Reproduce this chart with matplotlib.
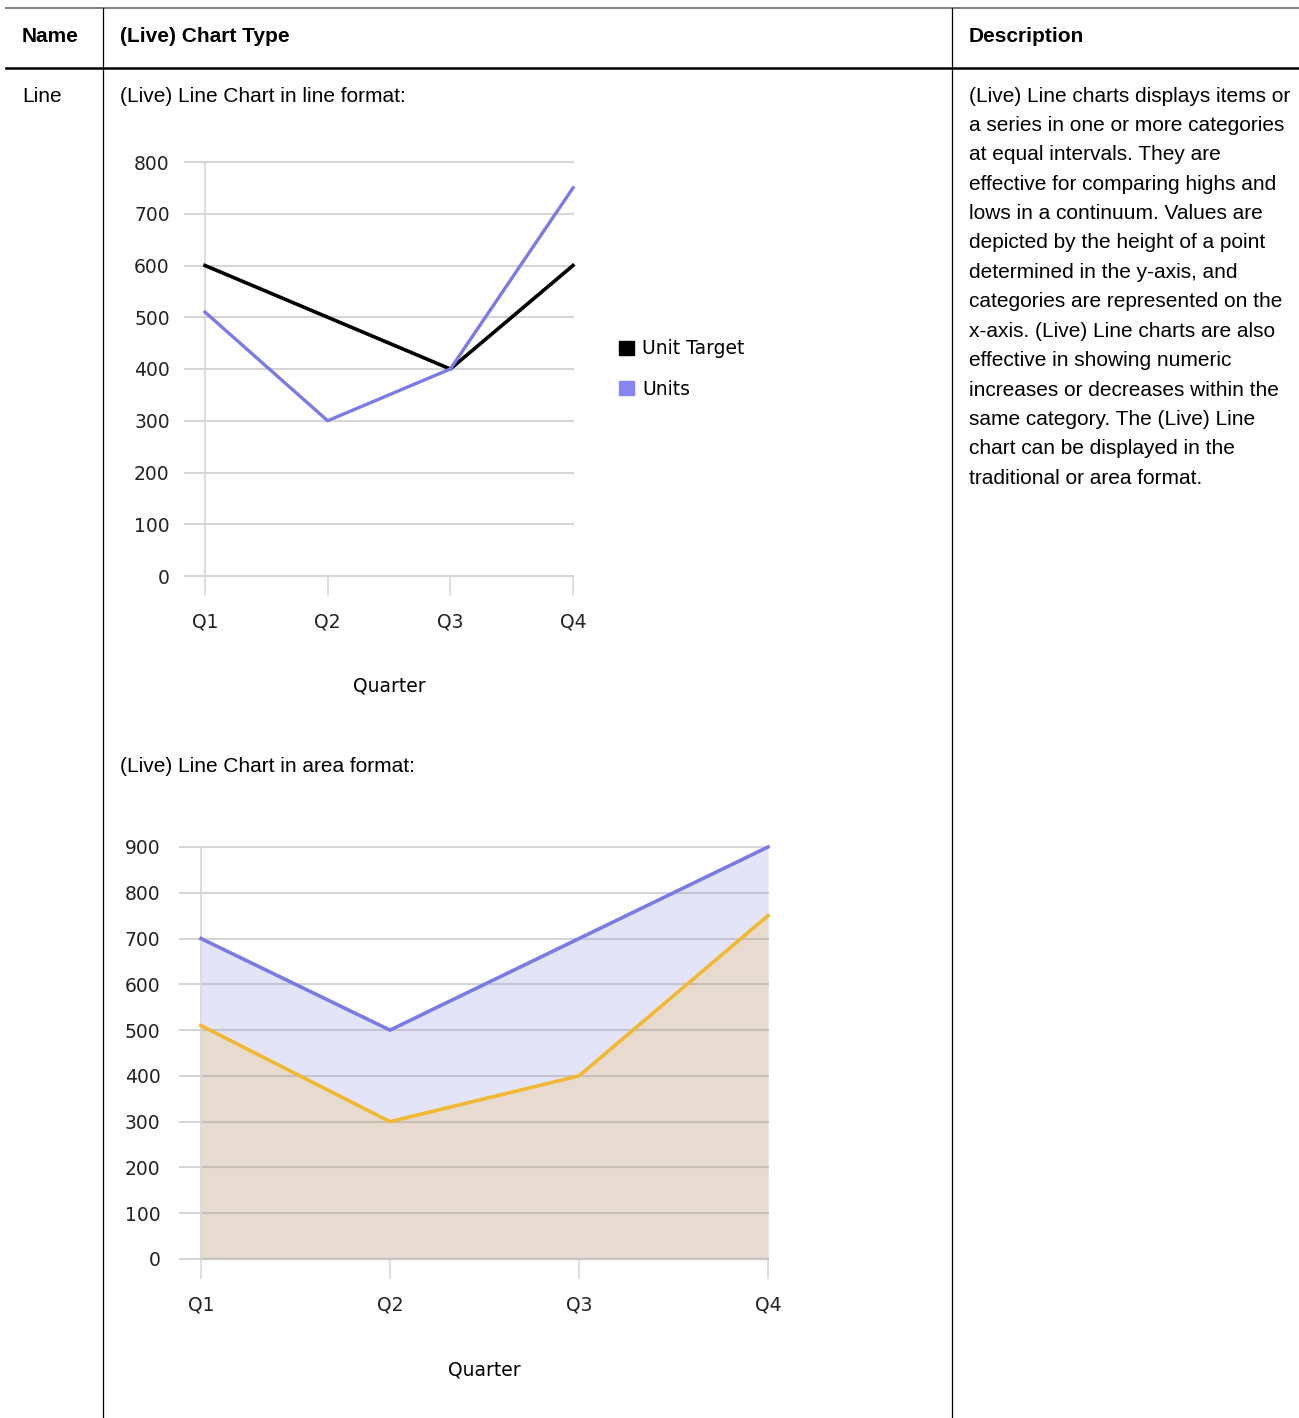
import matplotlib
matplotlib.use("Agg")
import matplotlib.pyplot as plt
from matplotlib.lines import Line2D
from matplotlib.patches import Patch

W, H = 1299, 1418
DOC_FONT = ['Liberation Sans Narrow', 'Liberation Sans', 'DejaVu Sans']
CHART_FONT = ['DejaVu Sans']

# ---------- data ----------
quarters = ["Q1", "Q2", "Q3", "Q4"]
unit_target = [600, 500, 400, 600]
units = [510, 300, 400, 750]
line_yticks = [0, 100, 200, 300, 400, 500, 600, 700, 800]

area_upper = [700, 500, 700, 900]
area_lower = [510, 300, 400, 750]
area_yticks = [0, 100, 200, 300, 400, 500, 600, 700, 800, 900]

headers = ["Name", "(Live) Chart Type", "Description"]
row_name = "Line"
caption_line = "(Live) Line Chart in line format:"
caption_area = "(Live) Line Chart in area format:"
desc_lines = [
    "(Live) Line charts displays items or",
    "a series in one or more categories",
    "at equal intervals. They are",
    "effective for comparing highs and",
    "lows in a continuum. Values are",
    "depicted by the height of a point",
    "determined in the y-axis, and",
    "categories are represented on the",
    "x-axis. (Live) Line charts are also",
    "effective in showing numeric",
    "increases or decreases within the",
    "same category. The (Live) Line",
    "chart can be displayed in the",
    "traditional or area format.",
]

BLUE = "#7b7be8"
BLUE_LEG = "#8686f2"
LAVENDER = "#e3e4f8"
TAN = "#e7dbcf"
YELLOW = "#f2b831"
GRID = "#d6d6d6"
FS = 13.5

fig = plt.figure(figsize=(W / 100, H / 100), dpi=100)

def fx(px): return px / W
def fy(py): return 1 - py / H

def hline(y, x0, x1, color, lw):
    fig.add_artist(Line2D([fx(x0), fx(x1)], [fy(y), fy(y)], color=color, lw=lw,
                          transform=fig.transFigure))

def vline(x, y0, y1, color, lw):
    fig.add_artist(Line2D([fx(x), fx(x)], [fy(y0), fy(y1)], color=color, lw=lw,
                          transform=fig.transFigure))

# ---------- table frame ----------
hline(8, 6, W, "#7f7f7f", 1.4)
hline(68, 6, W, "black", 1.8)
vline(103, 8, H, "black", 0.9)
vline(952, 8, H, "black", 0.9)

for x, t in zip([22, 120, 969], headers):
    fig.text(fx(x), fy(36), t, family=DOC_FONT, fontsize=15, weight="bold",
             va="center", ha="left")
fig.text(fx(22), fy(96), row_name, family=DOC_FONT, fontsize=15, va="center")
fig.text(fx(120), fy(96), caption_line, family=DOC_FONT, fontsize=15, va="center")
fig.text(fx(120), fy(766), caption_area, family=DOC_FONT, fontsize=15, va="center")
for i, t in enumerate(desc_lines):
    fig.text(fx(969), fy(96 + i * 29.4), t, family=DOC_FONT, fontsize=15, va="center")

def style_axes(ax, yticks, left_pad, q_left):
    ax.set_xlim(q_left, 3)
    ax.set_ylim(0, yticks[-1])
    for s in ax.spines.values():
        s.set_visible(False)
    ax.set_xticks(range(len(quarters)))
    ax.set_xticklabels(quarters, family=CHART_FONT, fontsize=FS, color="#222222")
    ax.set_yticks(yticks)
    ax.set_yticklabels([str(v) for v in yticks], family=CHART_FONT, fontsize=FS,
                       color="#222222")
    ax.tick_params(axis="y", length=0, pad=left_pad)
    ax.tick_params(axis="x", length=14.5, width=1.1, color=GRID, direction="out", pad=12)
    ax.axvline(0, color=GRID, lw=1.2, zorder=1.6, clip_on=False)
    ax.patch.set_alpha(0)

def unclip_grid(ax):
    for gl in ax.get_ygridlines():
        gl.set_clip_on(False)

# ---------- chart 1: line format ----------
x0, x1, ytop, ybot = 185, 573, 162, 576
ax1 = fig.add_axes([fx(x0), fy(ybot), fx(x1 - x0), (ybot - ytop) / H])
q1 = -(205 - 185) / ((573 - 205) / 3)
style_axes(ax1, line_yticks, 11, q1)
ax1.yaxis.grid(True, color=GRID, lw=1.5)
ax1.set_axisbelow(True)
unclip_grid(ax1)
xs = range(len(quarters))
ax1.plot(xs, unit_target, color="black", lw=2.6, clip_on=False)
ax1.plot(xs, units, color=BLUE, lw=2.4, clip_on=False)
ax1.set_xlabel("Quarter", family=CHART_FONT, fontsize=FS, labelpad=0)
ax1.xaxis.set_label_coords((389 - x0) / (x1 - x0), -(686 - ybot) / (ybot - ytop))
ax1.xaxis.label.set_va("center")
leg = ax1.legend(handles=[Patch(color="black", label="Unit Target"),
                          Patch(color=BLUE_LEG, label="Units")],
                 loc="center left",
                 bbox_to_anchor=((619 - x0) / (x1 - x0), (576 - 369) / (ybot - ytop)),
                 frameon=False, borderpad=0, borderaxespad=0,
                 handlelength=0.8, handleheight=0.8, handletextpad=0.45,
                 labelspacing=1.15, prop={"family": CHART_FONT, "size": FS})

# ---------- chart 2: area format ----------
x0, x1, ytop, ybot = 180, 768, 847, 1259
ax2 = fig.add_axes([fx(x0), fy(ybot), fx(x1 - x0), (ybot - ytop) / H])
q1 = -(201 - 180) / ((768 - 201) / 3)
style_axes(ax2, area_yticks, 14, q1)
ax2.yaxis.grid(True, color="#9c9c9c", alpha=0.42, lw=1.5)
ax2.set_axisbelow("line")
unclip_grid(ax2)
ax2.fill_between(xs, 0, area_upper, color=LAVENDER, lw=0, zorder=1)
ax2.fill_between(xs, 0, area_lower, color=TAN, lw=0, zorder=1.1)
ax2.plot(xs, area_upper, color=BLUE, lw=2.6, clip_on=False, zorder=3)
ax2.plot(xs, area_lower, color=YELLOW, lw=2.6, clip_on=False, zorder=3)
ax2.set_xlabel("Quarter", family=CHART_FONT, fontsize=FS)
ax2.xaxis.set_label_coords((484 - x0) / (x1 - x0), -(1370 - ybot) / (ybot - ytop))
ax2.xaxis.label.set_va("center")

fig.savefig("out.png", dpi=100)
